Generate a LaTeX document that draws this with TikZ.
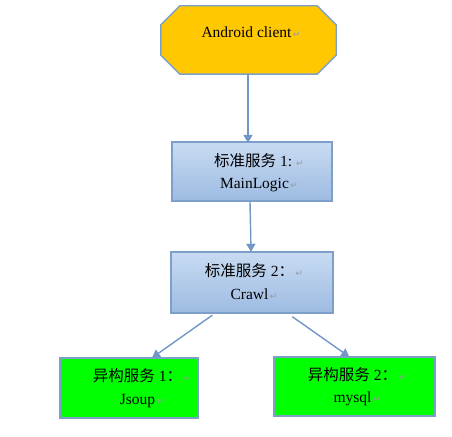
\documentclass[tikz,border=0pt]{standalone}
\usepackage{fontspec}
\setmainfont{Liberation Serif}
\newfontfamily\cjk{Noto Sans CJK SC}
\newfontfamily\symf{DejaVu Sans}
\usetikzlibrary{calc,arrows.meta}
\definecolor{edgeblue}{HTML}{7F9FCB}
\definecolor{arrowblue}{HTML}{7396C6}
\definecolor{gold}{HTML}{FFC800}
\definecolor{boxtop}{HTML}{C8DBF2}
\definecolor{boxbot}{HTML}{9DBBE2}
\definecolor{markgray}{HTML}{9A9A9A}
\newcommand{\pmark}{{\symf\fontsize{9bp}{9bp}\selectfont\color{markgray}\,↵}}
\tikzset{
  shapebox/.style={draw=edgeblue, line width=1.4bp, inner sep=0pt},
  stdbox/.style={shapebox, rectangle, top color=boxtop, bottom color=boxbot},
  hetbox/.style={shapebox, rectangle, fill=green},
  txt/.style={inner sep=0pt, align=center, font=\fontsize{15.5bp}{22.5bp}\selectfont},
  conn/.style={draw=arrowblue, line width=1.4bp, -{Triangle[width=9bp,length=8bp]}}
}
\begin{document}
\begin{tikzpicture}[x=1bp,y=-1bp]
\useasboundingbox (0,0) rectangle (452,437);
% octagon
\node[inner sep=0pt, minimum width=175bp, minimum height=68bp] (client) at (248.5,40) {};
\draw[edgeblue, line width=1.4bp, fill=gold]
  ($(client.north west)+(19,0)$) -- ($(client.north east)+(-19,0)$)
  -- ($(client.north east)+(0,19)$) -- ($(client.south east)+(0,-19)$)
  -- ($(client.south east)+(-19,0)$) -- ($(client.south west)+(19,0)$)
  -- ($(client.south west)+(0,-19)$) -- ($(client.north west)+(0,19)$) -- cycle;
\node[txt] (tclient) at (251,32) {Android client\pmark};
% standard boxes
\node[stdbox, minimum width=160bp, minimum height=59bp] (s1) at (252,171.5) {};
\node[txt] (ts1) at (259,172.5) {{\cjk 标准服务} 1:\,\pmark\\MainLogic\pmark};
\node[stdbox, minimum width=162bp, minimum height=61bp] (s2) at (252,282.5) {};
\node[txt] (ts2) at (254,281.5) {{\cjk 标准服务} 2{\cjk ：}\pmark\\Crawl\pmark};
% heterogeneous boxes
\node[hetbox, minimum width=138bp, minimum height=60bp] (h1) at (129,388) {};
\node[txt] (th1) at (142,388) {{\cjk 异构服务} 1{\cjk ：}\pmark\\Jsoup\pmark};
\node[hetbox, minimum width=161bp, minimum height=59bp] (h2) at (354.5,386.5) {};
\node[txt] (th2) at (357,386.5) {{\cjk 异构服务} 2{\cjk ：}\pmark\\mysql\pmark};
% connectors
\draw[conn] ($(client.south)+(-0.5,0)$) -- ($(s1.north)+(-4,1.5)$);
\draw[conn] ($(s1.south)+(-2,0)$) -- ($(s2.north)+(-1,0.5)$);
\draw[conn] ($(s2.south west)+(42,1.5)$) -- ($(h1.north)+(23,0.5)$);
\draw[conn] ($(s2.south west)+(122,3)$) -- ($(h2.north west)+(76,0.5)$);
\end{tikzpicture}
\end{document}
